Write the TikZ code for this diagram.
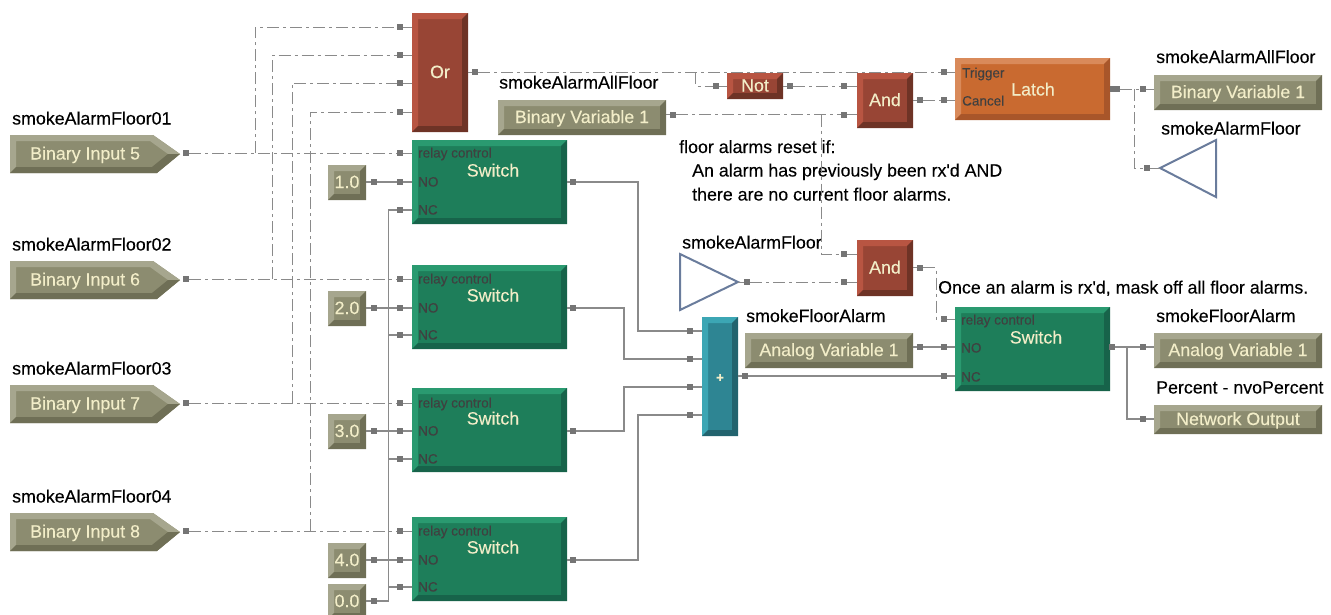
\documentclass[tikz,border=0pt]{standalone}
\usepackage{fontspec}
\setmainfont[FakeBold=0.2]{Liberation Sans}
\usepackage{tikz}

\definecolor{oliveM}{HTML}{8C8C70}
\definecolor{oliveL}{HTML}{A6A68E}
\definecolor{oliveD}{HTML}{6F6F56}
\definecolor{greenM}{HTML}{1E7E5A}
\definecolor{greenL}{HTML}{2A9A70}
\definecolor{greenD}{HTML}{17634A}
\definecolor{redM}{HTML}{984535}
\definecolor{redL}{HTML}{B85542}
\definecolor{redD}{HTML}{6E3326}
\definecolor{orangeM}{HTML}{C96A30}
\definecolor{orangeL}{HTML}{D98A5A}
\definecolor{orangeD}{HTML}{A8562A}
\definecolor{tealM}{HTML}{2E8593}
\definecolor{tealL}{HTML}{3CA6B4}
\definecolor{tealD}{HTML}{22636E}
\definecolor{wireC}{HTML}{8A8A8A}
\definecolor{creamC}{HTML}{F2EDC8}
\definecolor{triC}{HTML}{6A7C9C}

\newcommand{\bigfont}{\fontsize{17.8}{20}\selectfont}
\newcommand{\tinyfont}{\fontsize{13.5}{15}\selectfont}
\def\pbb{path picture bounding box}

\tikzset{
    bevel/.style n args={3}{rectangle, anchor=north west, inner sep=0pt, outer sep=0pt,
        fill=#1, text=creamC, font=\bigfont, text height=11pt, text depth=0pt,
        path picture={
            \fill[#2] (\pbb.north west) -- (\pbb.north east) -- ([shift={(-6,6)}]\pbb.north east)
                -- ([shift={(6,6)}]\pbb.north west) -- ([shift={(6,-6)}]\pbb.south west) -- (\pbb.south west) -- cycle;
            \fill[#3] (\pbb.south east) -- (\pbb.north east) -- ([shift={(-6,6)}]\pbb.north east)
                -- ([shift={(-6,-6)}]\pbb.south east) -- ([shift={(6,-6)}]\pbb.south west) -- (\pbb.south west) -- cycle;
        }},
    olivebox/.style={bevel={oliveM}{oliveL}{oliveD}},
    switchbox/.style={bevel={greenM}{greenL}{greenD}, minimum width=155pt, minimum height=84pt},
    gatebox/.style={bevel={redM}{redL}{redD}},
    port/.style={rectangle, fill=wireC!85!black, inner sep=0pt, outer sep=0pt, minimum size=6pt},
    ctl/.style={wireC, line width=1pt, dash pattern=on 12pt off 4pt on 3pt off 4pt},
    sig/.style={wireC, line width=1.3pt},
    lbl/.style={anchor=west, inner sep=0pt, font=\bigfont, text height=11pt, text depth=0pt},
    small/.style={anchor=west, inner sep=0pt, text=black!75, font=\tinyfont, text height=9pt, text depth=0pt},
    boxname/.style={inner sep=0pt, text=creamC, font=\bigfont, text height=11pt, text depth=0pt},
    tri/.style={draw=triC, line width=2pt, line join=miter}
}

\begin{document}
\begin{tikzpicture}[x=1pt, y=-1pt]
    \useasboundingbox (0,0) rectangle (1331,614);

    \foreach \nm/\txt/\lab/\y in {inA/Binary Input 5/smokeAlarmFloor01/135,
        inB/Binary Input 6/smokeAlarmFloor02/261,
        inC/Binary Input 7/smokeAlarmFloor03/385,
        inD/Binary Input 8/smokeAlarmFloor04/513} {
        \fill[oliveM] (10,\y) -- (153,\y) -- (180,\y+19) -- (157,\y+38) -- (10,\y+38) -- cycle;
        \fill[oliveL] (10,\y) -- (153,\y) -- (180,\y+19) -- (168,\y+19) -- (150,\y+6) -- (16,\y+6) -- (16,\y+32) -- (10,\y+38) -- cycle;
        \fill[oliveD] (10,\y+38) -- (157,\y+38) -- (180,\y+19) -- (168,\y+19) -- (152,\y+32) -- (16,\y+32) -- cycle;
        \node[boxname, anchor=west] (\nm) at (30,\y+19) {\txt};
        \node[lbl] (\nm lab) at (12,\y-16) {\lab};
        \node[port] (\nm p) at (186,\y+18) {};
      }

    \node[gatebox, minimum width=56pt, minimum height=119pt] (orB) at (412,13) {Or};
    \node[gatebox, minimum width=56pt, minimum height=26pt] (notB) at (727,73) {Not};
    \node[gatebox, minimum width=56pt, minimum height=55pt] (andA) at (857,73) {And};
    \node[gatebox, minimum width=56pt, minimum height=56pt] (andB) at (857,240) {And};
    \node[bevel={orangeM}{orangeL}{orangeD}, minimum width=155pt, minimum height=62pt] (latchB) at (955,58) {};
    \node[bevel={tealM}{tealL}{tealD}, minimum width=36pt, minimum height=119pt, font=\tinyfont\bfseries] (sumB) at (702,317) {+};

    \foreach \nm/\x/\y in {swA/412/140, swB/412/265, swC/412/388, swD/412/517, swE/955/307} {
        \node[switchbox] (\nm) at (\x,\y) {};
        \node[boxname] (\nm t) at (\x+81,\y+31) {Switch};
      }
    \foreach \nm/\y/\rel/\no/\nc in {swA/140/153/182/210, swB/265/279/308/335,
        swC/388/403/431/459, swD/517/531/560/587} {
        \node[small] (\nm rt) at (418,\rel) {relay control};
        \node[small] (\nm nt) at (418,\no) {NO};
        \node[small] (\nm ct) at (418,\nc) {NC};
        \node[port] (\nm r) at (400,\rel) {};
        \node[port] (\nm n) at (400,\no) {};
        \node[port] (\nm c) at (400,\nc) {};
        \node[port] (\nm o) at (573,\no) {};
        \draw[ctl] (\nm r) -- (\nm r -| \nm.west);
        \draw[sig] (\nm n) -- (\nm n -| \nm.west);
        \draw[sig] (\nm c) -- (\nm c -| \nm.west);
        \draw[sig] (\nm o) -- (\nm o -| \nm.east);
      }
    \node[small] (swErt) at (961,320) {relay control};
    \node[small] (swEnt) at (961,348) {NO};
    \node[small] (swEct) at (961,377) {NC};
    \node[small] (trigT) at (962,73) {Trigger};
    \node[small] (cancT) at (962,101) {Cancel};
    \node[boxname] (latchT) at (1033,90) {Latch};

    \foreach \nm/\txt/\y in {cA/1.0/165, cB/2.0/291, cC/3.0/414, cD/4.0/543, cE/0.0/584} {
        \node[olivebox, minimum width=38pt, minimum height=35pt] (\nm) at (328,\y) {\txt};
        \node[port] (\nm p) at (374,\y+17) {};
        \draw[sig] (\nm p) -- (\nm p -| \nm.east);
      }

    \foreach \nm/\txt/\x/\y/\w/\h in {bvA/Binary Variable 1/498/100/168/35,
        bvB/Binary Variable 1/1154/75/168/35,
        avA/Analog Variable 1/745/333/168/35,
        avB/Analog Variable 1/1154/333/168/35,
        netB/Network Output/1154/405/168/29} {
        \node[olivebox, minimum width=\w pt, minimum height=\h pt] (\nm) at (\x,\y) {\txt};
      }

    \node[lbl] (bvAlab) at (499,83) {smokeAlarmAllFloor};
    \node[lbl] (bvBlab) at (1156,57.5) {smokeAlarmAllFloor};
    \node[lbl] (triAlab) at (1161,129) {smokeAlarmFloor};
    \node[lbl] (triBlab) at (682,243) {smokeAlarmFloor};
    \node[lbl] (avAlab) at (746,316.5) {smokeFloorAlarm};
    \node[lbl] (avBlab) at (1156,316.5) {smokeFloorAlarm};
    \node[lbl] (netlab) at (1156,388) {Percent - nvoPercent};
    \node[lbl] (noteA) at (679,147.5) {floor alarms reset if:};
    \node[lbl] (noteB) at (692,171) {An alarm has previously been rx\textquotesingle d AND};
    \node[lbl] (noteC) at (692,195) {there are no current floor alarms.};
    \node[lbl] (noteD) at (938,288) {Once an alarm is rx\textquotesingle d, mask off all floor alarms.};

    \draw[tri] (1160,168) -- (1216,140) -- (1216,197) -- cycle;
    \draw[tri] (680,254) -- (738,282) -- (680,310) -- cycle;
    \coordinate (triAtip) at (1160,168);
    \coordinate (triBtip) at (738,282);

    \foreach \nm/\x/\y in {orPa/400/27, orPb/400/55, orPc/400/83, orPd/400/112, orOut/475/72,
        notIn/716/86, notOut/790/86, andAa/844/86, andAb/844/114.5, andAo/920/100,
        andBa/844/254, andBb/844/282, andBo/920/267.5, trigP/944/72, cancP/944/100,
        bvAp/673/114.5, bvBp/1143/89, triAp/1147/168, triBp/747/282,
        avAp/920/347, swEr/944/319, swEn/944/347, swEc/944/376, swEo/1112/347,
        avBp/1143/347, netP/1143/419, sumA/690/331, sumC/690/359, sumD/690/387, sumE/690/415, sumOut/745/376} {
        \node[port] (\nm) at (\x,\y) {};
      }
    \node[port, minimum width=10pt] (latchOut) at (1115,89) {};

    \foreach \p/\r/\o/\jx in {inAp/swAr/orPa/255, inBp/swBr/orPb/272.5, inCp/swCr/orPc/292, inDp/swDr/orPd/310} {
        \draw[ctl] (\p) -- (\r);
        \coordinate (j\o) at (\jx,0 |- \r);
        \draw[ctl] (j\o) |- (\o);
      }
    \foreach \o in {orPa,orPb,orPc,orPd} {
        \draw[ctl] (\o) -- (\o -| orB.west);
      }
    \foreach \c/\n in {cAp/swAn, cBp/swBn, cCp/swCn, cDp/swDn} {
        \draw[sig] (\c) -- (\n);
      }

    \coordinate (busBot) at (388.5,601);
    \draw[sig] (swAc) -| (busBot) -- (cEp);
    \foreach \n in {swBc,swCc,swDc} {
        \draw[sig] (\n) -- (\n -| busBot);
      }

    \coordinate (elbA) at (638,331);
    \coordinate (elbB) at (624,359);
    \coordinate (elbC) at (624,387);
    \coordinate (elbD) at (638,415);
    \draw[sig] (swAo) -| (elbA) -- (sumA);
    \draw[sig] (swBo) -| (elbB) -- (sumC);
    \draw[sig] (swCo) -| (elbC) -- (sumD);
    \draw[sig] (swDo) -| (elbD) -- (sumE);
    \foreach \s in {sumA,sumC,sumD,sumE} {
        \draw[sig] (\s) -- (\s -| sumB.west);
      }
    \draw[sig, line width=2.4pt] (sumOut) -- (swEc);
    \draw[sig] (sumOut) -- (sumOut -| sumB.east);

    \draw[ctl] (orOut) -- (orOut -| orB.east);
    \draw[ctl] (orOut) -- (trigP);
    \coordinate (jNot) at (695.5,72);
    \draw[ctl] (jNot) |- (notIn);
    \draw[ctl] (notIn) -- (notIn -| notB.west);
    \draw[ctl] (notOut) -- (notOut -| notB.east);
    \draw[ctl] (notOut) -- (andAa);
    \draw[ctl] (bvAp) -- (bvAp -| bvA.east);
    \draw[ctl] (bvAp) -- (andAb);
    \coordinate (jAnd) at (821,114.5);
    \draw[ctl] (jAnd) |- (andBa);
    \draw[ctl] (triBtip) -- (triBp);
    \draw[ctl] (triBp) -- (andBb);
    \foreach \a in {andAa,andAb} {
        \draw[ctl] (\a) -- (\a -| andA.west);
      }
    \foreach \a in {andBa,andBb} {
        \draw[ctl] (\a) -- (\a -| andB.west);
      }
    \draw[ctl] (andAo) -- (andAo -| andA.east);
    \draw[ctl] (andAo) -- (cancP);
    \draw[ctl] (andBo) -- (andBo -| andB.east);
    \coordinate (elbR) at (936,319);
    \draw[ctl] (andBo) -| (elbR) -- (swEr);
    \draw[ctl] (swEr) -- (swEr -| swE.west);
    \draw[ctl] (trigP) -- (trigP -| latchB.west);
    \draw[ctl] (cancP) -- (cancP -| latchB.west);
    \draw[ctl] (latchOut) -- (bvBp);
    \draw[ctl] (bvBp) -- (bvBp -| bvB.west);
    \coordinate (jLatch) at (1134,89);
    \draw[ctl] (jLatch) |- (triAp);
    \draw[ctl] (triAp) -- (triAtip);

    \draw[sig] (avAp) -- (avAp -| avA.east);
    \draw[sig] (avAp) -- (swEn);
    \draw[sig] (swEn) -- (swEn -| swE.west);
    \draw[sig] (swEc) -- (swEc -| swE.west);
    \draw[sig] (swEo) -- (avBp);
    \draw[sig] (avBp) -- (avBp -| avB.west);
    \coordinate (jOut) at (1127,347);
    \draw[sig] (jOut) |- (netP);
    \draw[sig] (netP) -- (netP -| netB.west);
  \end{tikzpicture}
\end{document}
